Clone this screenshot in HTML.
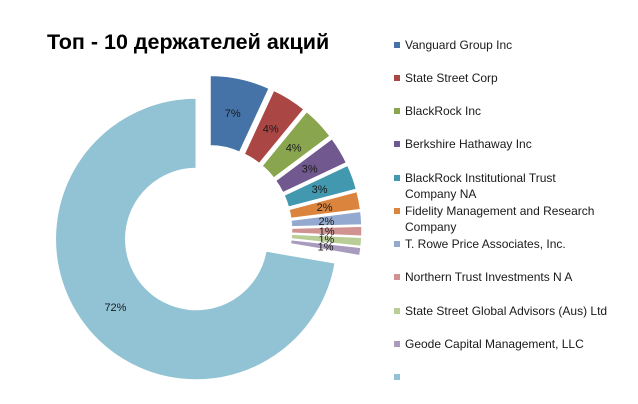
<!DOCTYPE html>
<html><head><meta charset="utf-8"><style>
body{margin:0;background:#fff;width:638px;height:404px;overflow:hidden;font-family:"Liberation Sans","DejaVu Sans",sans-serif}
</style></head><body>
<svg id="s" width="638" height="404" xmlns="http://www.w3.org/2000/svg" style="position:absolute;left:0;top:0">
<text x="47" y="49" font-family="Liberation Sans, DejaVu Sans, sans-serif" font-weight="bold" font-size="21.5" fill="#000">Топ - 10 держателей акций</text>
</svg>
<script>
var s=document.getElementById('s'),NS='http://www.w3.org/2000/svg';
var vals=[6.9,4.05,3.85,3.2,2.9,2.1,1.55,1.15,1.05,0.95];
var tot=vals.reduce(function(a,b){return a+b},0);vals.push(100-tot);
var labs=['7%','4%','4%','3%','3%','2%','2%','1%','1%','1%','72%'];
var cols=['#4572A7','#AA4643','#89A54E','#71588F','#4198AF','#DB843D','#93A9CF','#D19392','#B9CD96','#A99BBD','#92C3D5'];
var cx=207,cy=230,R=141,r=70.5,d=14,a=0;
function pt(x,y,rad,t){return [x+rad*Math.sin(t),y-rad*Math.cos(t)];}
for(var i=0;i<vals.length;i++){
 var a0=a/100*2*Math.PI;a+=vals[i];var a1=a/100*2*Math.PI;var m=(a0+a1)/2;
 var ox=cx+d*Math.sin(m),oy=cy-d*Math.cos(m);
 var p1=pt(ox,oy,R,a0),p2=pt(ox,oy,R,a1),p3=pt(ox,oy,r,a1),p4=pt(ox,oy,r,a0);
 var lg=(a1-a0)>Math.PI?1:0;
 var p=document.createElementNS(NS,'path');
 p.setAttribute('d','M'+p1+' A'+R+','+R+' 0 '+lg+' 1 '+p2+' L'+p3+' A'+r+','+r+' 0 '+lg+' 0 '+p4+'Z');
 p.setAttribute('fill',cols[i]);p.setAttribute('stroke','#fff');p.setAttribute('stroke-width','1.5');
 s.appendChild(p);
 var lp=pt(ox,oy,(R+r)/2,m);
 var t=document.createElementNS(NS,'text');
 t.setAttribute('x',lp[0]);t.setAttribute('y',lp[1]+4);t.setAttribute('text-anchor','middle');
 t.setAttribute('font-size','11');t.setAttribute('fill','#1a1a1a');
 t.setAttribute('font-family','Liberation Sans, DejaVu Sans, sans-serif');
 t.textContent=labs[i];s.appendChild(t);
}
var L=[['Vanguard Group Inc'],['State Street Corp'],['BlackRock Inc'],['Berkshire Hathaway Inc'],['BlackRock Institutional Trust','Company NA'],['Fidelity Management and Research','Company'],['T. Rowe Price Associates, Inc.'],['Northern Trust Investments N A'],['State Street Global Advisors (Aus) Ltd'],['Geode Capital Management, LLC'],['']];
var ys=[45,78,111,144,178,211,244,277,311,344,377];
for(var i=0;i<L.length;i++){
 var rc=document.createElementNS(NS,'rect');
 rc.setAttribute('x',394);rc.setAttribute('y',ys[i]-3);rc.setAttribute('width',6);rc.setAttribute('height',6);
 rc.setAttribute('fill',cols[i]);s.appendChild(rc);
 for(var j=0;j<L[i].length;j++){
  var t=document.createElementNS(NS,'text');
  t.setAttribute('x',405);t.setAttribute('y',ys[i]+4+j*16);t.setAttribute('font-size','12');
  t.setAttribute('fill','#1a1a1a');t.setAttribute('font-family','Liberation Sans, DejaVu Sans, sans-serif');
  t.textContent=L[i][j];s.appendChild(t);
 }
}
</script>
</body></html>
